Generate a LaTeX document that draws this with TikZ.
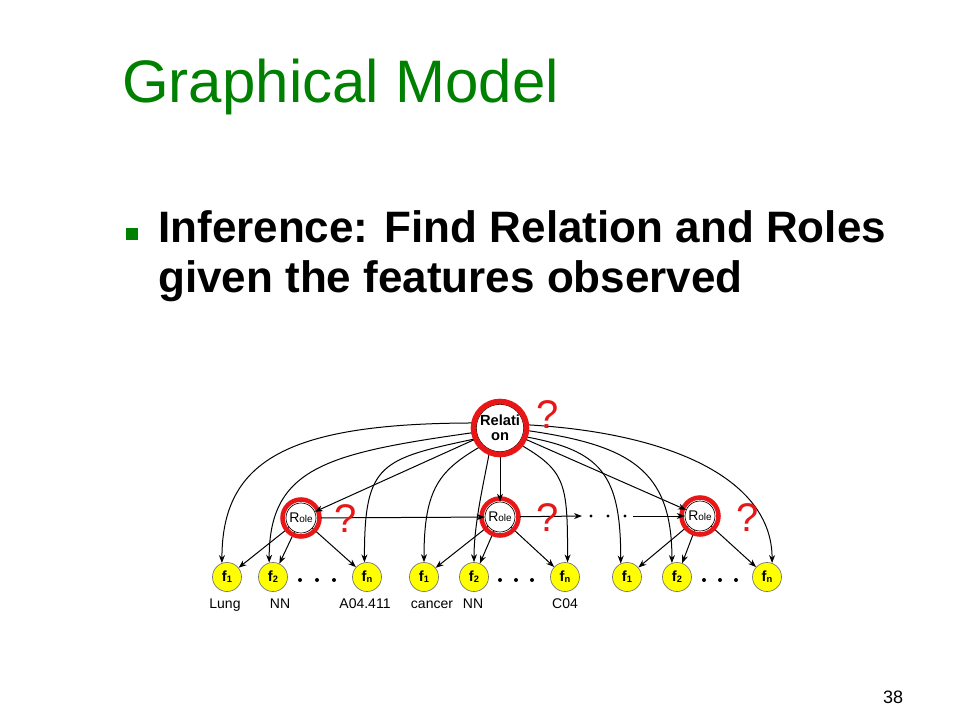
\documentclass[tikz,border=0pt]{standalone}
\usepackage{fontspec}
\setmainfont{Liberation Sans}
\usetikzlibrary{arrows.meta}
\definecolor{ttlgreen}{RGB}{0,128,0}
\definecolor{ringred}{RGB}{232,22,22}
\definecolor{fyel}{RGB}{255,255,0}
\newcommand\fsub[1]{f\raisebox{-0.8pt}{\fontsize{7}{7}\selectfont #1}}
\newcommand\roletext{{\fontsize{10.5}{10.5}\selectfont R}{\fontsize{7.5}{7.5}\selectfont ole}}
\begin{document}
\begin{tikzpicture}[x=0.75pt,y=0.75pt,
  fnode/.style={circle,draw=black!55,fill=fyel,line width=0.5pt,minimum size=21.75pt,inner sep=0pt,font=\fontsize{11}{11}\selectfont\bfseries},
  rolenode/.style={circle,draw=black,fill=white,line width=0.5pt,minimum size=22.5pt,inner sep=0pt},
  relnode/.style={circle,draw=black,fill=white,line width=0.6pt,minimum size=34.5pt,inner sep=0pt,align=center,font=\fontsize{11}{11.25}\selectfont\bfseries},
  ring/.style={draw=ringred,line width=3.4pt},
  bigring/.style={draw=ringred,line width=4.2pt},
  arr/.style={-{Stealth[length=6pt,width=4.5pt]},line width=0.75pt},
  qm/.style={text=ringred,font=\fontsize{30}{30}\selectfont,inner sep=0pt},
  lbl/.style={font=\fontsize{10.5}{10.5}\selectfont,anchor=base,inner sep=0pt},
  txt/.style={anchor=base west,inner sep=0pt}
]
\fill[white] (0,0) rectangle (960,-720);
\useasboundingbox (0,0) rectangle (960,-720);

% title and bullet
\node[txt,text=ttlgreen,font=\fontsize{45}{45}\selectfont] (title) at (122,-103) {Graphical Model};
\node[fill=ttlgreen,minimum size=9pt,inner sep=0pt] (bul) at (131.5,-234.5) {};
\node[txt,font=\fontsize{33}{33}\selectfont\bfseries] (b1) at (158,-243) {Inference: Find Relation and Roles};
\node[txt,font=\fontsize{33}{33}\selectfont\bfseries] (b2) at (158,-292) {given the features observed};
\node[font=\fontsize{13.5}{13.5}\selectfont,anchor=base,inner sep=0pt] (pg) at (893,-703) {38};

% nodes
\node[relnode] (rel) at (500,-428) {Relati\\on};
\node[rolenode] (r1) at (301,-518) {\roletext};
\node[rolenode] (r2) at (500,-517) {\roletext};
\node[rolenode] (r3) at (700,-516) {\roletext};

\node[fnode] (f1a) at (227,-577) {\fsub{1}};
\node[fnode] (f2a) at (273,-577) {\fsub{2}};
\node[fnode] (fna) at (367,-577) {\fsub{n}};
\node[fnode] (f1b) at (424,-577) {\fsub{1}};
\node[fnode] (f2b) at (474,-577) {\fsub{2}};
\node[fnode] (fnb) at (565,-577) {\fsub{n}};
\node[fnode] (f1c) at (627,-577) {\fsub{1}};
\node[fnode] (f2c) at (677,-577) {\fsub{2}};
\node[fnode] (fnc) at (767,-577) {\fsub{n}};

% dots between feature nodes
\foreach \x in {300,317,334,500,516,532,704,720,736} \fill (\x,-580) circle[radius=2];
% dots in role row
\foreach \x in {591,608,625} \fill (\x,-516) circle[radius=1.6];

% labels
\node[lbl] (l1) at (225,-608) {Lung};
\node[lbl] (l2) at (280,-608) {NN};
\node[lbl] (l3) at (365,-608) {A04.411};
\node[lbl] (l4) at (432,-608) {cancer};
\node[lbl] (l5) at (473,-608) {NN};
\node[lbl] (l6) at (565,-608) {C04};

% arcs from relation to features
\draw[arr] (rel.168) to[out=180,in=90,out distance=140pt,in distance=78pt] (f1a.110);
\draw[arr] (rel.190) to[out=188,in=90,out distance=112pt,in distance=72pt] (f2a.105);
\draw[arr] (rel.205) to[out=192,in=90,out distance=75pt,in distance=75pt] (fna.100);
\draw[arr] (rel.225) to[out=210,in=90,out distance=37.5pt,in distance=56pt] (f1b.north);
\draw[arr] (rel.245) to[out=260,in=90,out distance=22pt,in distance=30pt] (f2b.north);
\draw[arr] (rel.320) to[out=330,in=90,out distance=41pt,in distance=60pt] (fnb.80);
\draw[arr] (rel.340) to[out=350,in=90,out distance=60pt,in distance=67pt] (f1c.115);
\draw[arr] (rel.355) to[out=352,in=90,out distance=79pt,in distance=71pt] (f2c.110);
\draw[arr] (rel.8) to[out=357,in=90,out distance=112pt,in distance=62pt] (fnc.70);

% role to features
\draw[arr] (r1) -- (f1a);
\draw[arr] (r1) -- (f2a);
\draw[arr] (r1) -- (fna);
\draw[arr] (r2) -- (f1b);
\draw[arr] (r2) -- (f2b);
\draw[arr] (r2) -- (fnb);
\draw[arr] (r3) -- (f1c);
\draw[arr] (r3) -- (f2c);
\draw[arr] (r3) -- (fnc);

% red rings
\draw[bigring] (rel.center) circle[radius=26.5];
\draw[ring] (r1.center) circle[radius=18.5];
\draw[ring] (r2.center) circle[radius=18.5];
\draw[ring] (r3.center) circle[radius=18.5];

% incoming edges to roles
\coordinate (m1) at (582,-516);
\coordinate (m2) at (633,-516);
\draw[arr,shorten <=3.5pt] (rel) -- (r1);
\draw[arr,shorten <=3.5pt] (rel) -- (r2);
\draw[arr,shorten <=3.5pt] (rel) -- (r3);
\draw[arr,shorten <=3.5pt] (r1) -- (r2);
\draw[arr,shorten <=3.5pt] (r2) -- (m1);
\draw[arr] (m2) -- (r3);

% question marks
\node[qm] (q0) at (548,-415) {?};
\node[qm] (q1) at (346,-519) {?};
\node[qm] (q2) at (548,-518) {?};
\node[qm] (q3) at (748,-518) {?};
\end{tikzpicture}
\end{document}
